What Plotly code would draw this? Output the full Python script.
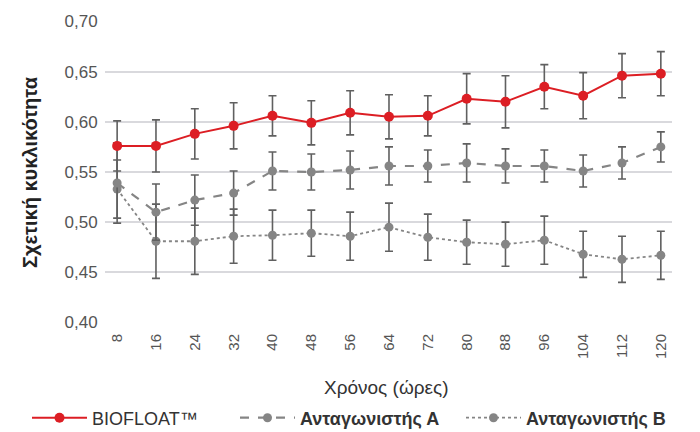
import plotly.graph_objects as go

hours = [8, 16, 24, 32, 40, 48, 56, 64, 72, 80, 88, 96, 104, 112, 120]
tick_labels = [str(h) for h in hours]

biofloat = [0.576, 0.576, 0.588, 0.596, 0.606, 0.599, 0.609, 0.605, 0.606, 0.623, 0.620, 0.635, 0.626, 0.646, 0.648]
biofloat_err = [0.025, 0.026, 0.025, 0.023, 0.020, 0.022, 0.022, 0.022, 0.020, 0.025, 0.026, 0.022, 0.023, 0.022, 0.022]

comp_a = [0.539, 0.510, 0.522, 0.529, 0.551, 0.550, 0.552, 0.556, 0.556, 0.559, 0.556, 0.556, 0.551, 0.559, 0.575]
comp_a_err = [0.040, 0.028, 0.025, 0.022, 0.019, 0.018, 0.019, 0.019, 0.016, 0.019, 0.017, 0.016, 0.016, 0.016, 0.015]

comp_b = [0.533, 0.481, 0.481, 0.486, 0.487, 0.489, 0.486, 0.495, 0.485, 0.480, 0.478, 0.482, 0.468, 0.463, 0.467]
comp_b_err = [0.029, 0.037, 0.033, 0.027, 0.025, 0.023, 0.024, 0.024, 0.023, 0.022, 0.022, 0.024, 0.023, 0.023, 0.024]

names = ["BIOFLOAT™", "<b>Ανταγωνιστής Α</b>", "<b>Ανταγωνιστής Β</b>"]

RED = "#dc1e24"
GRAY = "#858585"
ERR = "#606060"
FONT = "Liberation Sans"

fig = go.Figure()

fig.add_trace(go.Scatter(
    x=hours, y=comp_b, name=names[2], mode="lines+markers", legend="legend3",
    line=dict(color=GRAY, width=1.8, dash="dot"),
    marker=dict(color=GRAY, size=9),
    error_y=dict(type="data", array=comp_b_err, color=ERR, thickness=1.6, width=4),
))
fig.add_trace(go.Scatter(
    x=hours, y=comp_a, name=names[1], mode="lines+markers", legend="legend2",
    line=dict(color=GRAY, width=2.2, dash="dash"),
    marker=dict(color=GRAY, size=9),
    error_y=dict(type="data", array=comp_a_err, color=ERR, thickness=1.6, width=4),
))
fig.add_trace(go.Scatter(
    x=hours, y=biofloat, name=names[0], mode="lines+markers", legend="legend",
    line=dict(color=RED, width=2),
    marker=dict(color=RED, size=10),
    error_y=dict(type="data", array=biofloat_err, color=ERR, thickness=1.6, width=4),
))

leg_common = dict(
    orientation="h", xref="container", yref="container",
    y=1 - 418 / 432, yanchor="middle", xanchor="left",
    font=dict(family=FONT, size=18, color="#333333"),
    itemwidth=55, bgcolor="rgba(0,0,0,0)",
)

fig.update_layout(
    width=700, height=432,
    margin=dict(l=105, r=28, t=18, b=109),
    paper_bgcolor="white", plot_bgcolor="white",
    separators=",.",
    font=dict(family=FONT, size=15, color="#555555"),
    showlegend=True,
    legend=dict(leg_common, x=27 / 700),
    legend2=dict(leg_common, x=235 / 700),
    legend3=dict(leg_common, x=461 / 700),
    xaxis=dict(
        range=[5.5, 122.3], tickmode="array", tickvals=hours, ticktext=tick_labels,
        tickangle=-90, showgrid=False, zeroline=False,
        showline=False, ticks="outside", ticklen=4, tickcolor="white",
        tickfont=dict(family=FONT, size=15, color="#555555"),
    ),
    yaxis=dict(
        range=[0.3995, 0.7005], tickmode="linear", tick0=0.40, dtick=0.05,
        tickformat=".2f", showgrid=True, gridcolor="#d9d9dd", gridwidth=1.6,
        zeroline=False, showline=False, ticks="outside", ticklen=3, tickcolor="white",
        tickfont=dict(family=FONT, size=17, color="#555555"),
    ),
    annotations=[
        dict(text="<b>Σχετική κυκλικότητα</b>", xref="paper", yref="paper",
             x=0, y=0.5, xanchor="center", yanchor="middle", xshift=-75,
             textangle=-90, showarrow=False,
             font=dict(family=FONT, size=20, color="#222222")),
        dict(text="Χρόνος (ώρες)", xref="paper", yref="paper",
             x=0.495, y=0, xanchor="center", yanchor="middle", yshift=-64,
             showarrow=False,
             font=dict(family=FONT, size=19, color="#333333")),
    ],
)

fig.write_html("out.html", config={"displayModeBar": False},
               post_script="document.body.style.margin='0';")
